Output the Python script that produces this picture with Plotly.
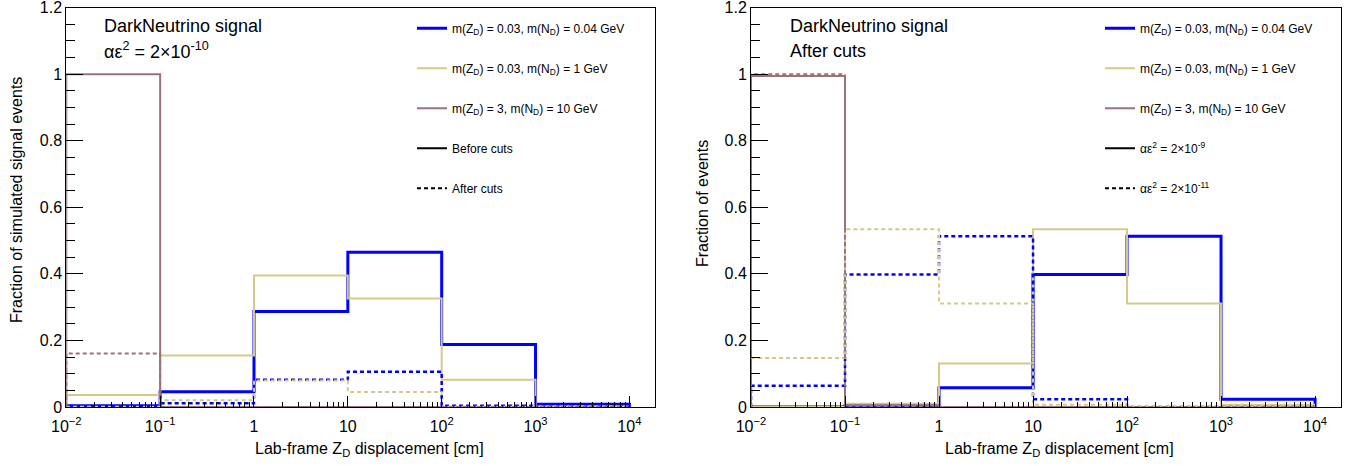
import plotly.graph_objects as go

# ---------------- data ----------------
bin_edges = [1e-2, 1e-1, 1, 10, 100, 1e3, 1e4]

# Left panel: alpha*eps^2 = 2e-10, before / after cuts
left_blue_before = [0.004, 0.046, 0.287, 0.465, 0.188, 0.008]
left_khaki_before = [0.036, 0.155, 0.395, 0.326, 0.082, 0.002]
left_mauve_before = [1.0, 0.0, 0.0, 0.0, 0.0, 0.0]
left_blue_after = [0.002, 0.011, 0.082, 0.106, 0.004, 0.001]
left_khaki_after = [0.001, 0.020, 0.080, 0.045, 0.001, 0.0]
left_mauve_after = [0.161, 0.0, 0.0, 0.0, 0.0, 0.0]

# Right panel: after cuts, two couplings
right_blue_2e9 = [0.0, 0.004, 0.058, 0.398, 0.513, 0.023]
right_khaki_2e9 = [0.0, 0.010, 0.131, 0.534, 0.311, 0.007]
right_mauve_2e9 = [0.995, 0.005, 0.0, 0.0, 0.0, 0.0]
right_blue_2e11 = [0.064, 0.398, 0.513, 0.023, 0.0, 0.0]
right_khaki_2e11 = [0.147, 0.534, 0.311, 0.007, 0.0, 0.0]
right_mauve_2e11 = [1.0, 0.0, 0.0, 0.0, 0.0, 0.0]

sample_names = [
    "m(Z<sub>D</sub>) = 0.03, m(N<sub>D</sub>) = 0.04 GeV",
    "m(Z<sub>D</sub>) = 0.03, m(N<sub>D</sub>) = 1 GeV",
    "m(Z<sub>D</sub>) = 3, m(N<sub>D</sub>) = 10 GeV",
]
left_style_names = ["Before cuts", "After cuts"]
right_style_names = [
    "αε<sup>2</sup> = 2×10<sup>-9</sup>",
    "αε<sup>2</sup> = 2×10<sup>-11</sup>",
]
decade_ticks = [1e-2, 1e-1, 1, 10, 100, 1e3, 1e4]
decade_text = ["10<sup>−2</sup>", "10<sup>−1</sup>", "1", "10",
               "10<sup>2</sup>", "10<sup>3</sup>", "10<sup>4</sup>"]
y_ticks = [0, 0.2, 0.4, 0.6, 0.8, 1.0, 1.2]
y_text = ["0", "0.2", "0.4", "0.6", "0.8", "1", "1.2"]

# ---------------- style ----------------
W, H = 1354, 466
BLUE = "#0000ff"
KHAKI = "#d3c98c"
MAUVE = "#987377"
FONT = "Liberation Sans, Arial, Helvetica, sans-serif"
colors = [BLUE, KHAKI, MAUVE]
widths = [3, 2, 2]
DASH = "4px,3px"


def step_xy(values):
    x = [bin_edges[0]] + list(bin_edges)
    y = [0.0] + list(values) + [0.0]
    return x, y


fig = go.Figure()


def add_panel(solid_sets, dashed_sets, xa, ya, legend, style_names):
    for i, vals in enumerate(solid_sets):
        x, y = step_xy(vals)
        fig.add_trace(go.Scatter(
            x=x, y=y, mode="lines", line_shape="hv",
            line=dict(color=colors[i], width=widths[i]),
            name=sample_names[i], legendgroup=f"{legend}_s{i}",
            legend=legend, xaxis=xa, yaxis=ya, hoverinfo="skip"))
    for i, vals in enumerate(dashed_sets):
        x, y = step_xy(vals)
        fig.add_trace(go.Scatter(
            x=x, y=y, mode="lines", line_shape="hv",
            line=dict(color=colors[i], width=2 if i else 2.5, dash=DASH),
            showlegend=False, legend=legend, xaxis=xa, yaxis=ya, hoverinfo="skip"))
    for j, nm in enumerate(style_names):
        fig.add_trace(go.Scatter(
            x=[None], y=[None], mode="lines",
            line=dict(color="black", width=2, dash=None if j == 0 else DASH),
            name=nm, legendgroup=f"{legend}_k{j}", legend=legend,
            xaxis=xa, yaxis=ya))


add_panel([left_blue_before, left_khaki_before, left_mauve_before],
          [left_blue_after, left_khaki_after, left_mauve_after],
          "x", "y", "legend", left_style_names)
add_panel([right_blue_2e9, right_khaki_2e9, right_mauve_2e9],
          [right_blue_2e11, right_khaki_2e11, right_mauve_2e11],
          "x2", "y2", "legend2", right_style_names)

minor_x = [m * 10 ** e for e in range(-2, 5) for m in range(2, 10)]
minor_y = [k * 0.05 for k in range(0, 25) if k % 4]

xcommon = dict(
    type="log", range=[-2, 4.273], showgrid=False, zeroline=False, automargin=False,
    showline=True, linecolor="black", linewidth=1, mirror=True,
    ticks="inside", ticklen=11, tickwidth=1, tickcolor="black",
    tickmode="array", tickvals=decade_ticks, ticktext=decade_text,
    ticklabelstandoff=5, ticklabeloverflow="allow",
    tickfont=dict(family=FONT, size=16, color="black"),
    minor=dict(ticks="inside", ticklen=5.5, tickwidth=1, tickcolor="black",
               tickmode="array", tickvals=minor_x, showgrid=False),
)
ycommon = dict(
    range=[0, 1.2005], showgrid=False, zeroline=False, automargin=False,
    showline=True, linecolor="black", linewidth=1, mirror=True,
    ticks="inside", ticklen=17, tickwidth=1, tickcolor="black",
    tickmode="array", tickvals=y_ticks, ticktext=y_text,
    ticklabeloverflow="allow",
    tickfont=dict(family=FONT, size=16, color="black"),
    minor=dict(ticks="inside", ticklen=8.5, tickwidth=1, tickcolor="black",
               tickmode="array", tickvals=minor_y, showgrid=False),
    domain=[1 - 407 / H, 1 - 7.5 / H],
)

legend_common = dict(
    font=dict(family=FONT, size=12, color="black"),
    bgcolor="rgba(0,0,0,0)", borderwidth=0, tracegroupgap=21,
    xanchor="left", yanchor="top", y=1 - 13.7 / H, itemclick=False,
)

fig.update_layout(
    width=W, height=H,
    margin=dict(l=0, r=0, t=0, b=0, pad=0, autoexpand=False),
    paper_bgcolor="white", plot_bgcolor="white",
    font=dict(family=FONT, color="black"),
    xaxis=dict(domain=[66.3 / W, 655 / W], anchor="y", **xcommon),
    yaxis=dict(anchor="x", **ycommon),
    xaxis2=dict(domain=[751 / W, 1340.7 / W], anchor="y2", **xcommon),
    yaxis2=dict(anchor="x2", **ycommon),
    legend=dict(x=412 / W, **legend_common),
    legend2=dict(x=1100 / W, **legend_common),
    showlegend=True,
)

annos = [
    dict(x=101.5 / W, y=1 - 26 / H, text="DarkNeutrino signal", size=18, xanchor="left"),
    dict(x=101.5 / W, y=1 - 51 / H,
         text="αε<sup>2</sup> = 2×10<sup>-10</sup>",
         size=18, xanchor="left"),
    dict(x=788 / W, y=1 - 26 / H, text="DarkNeutrino signal", size=18, xanchor="left"),
    dict(x=788 / W, y=1 - 51 / H, text="After cuts", size=18, xanchor="left"),
    dict(x=369 / W, y=1 - 449 / H, text="Lab-frame Z<sub>D</sub> displacement [cm]",
         size=16, xanchor="center"),
    dict(x=1059 / W, y=1 - 449 / H, text="Lab-frame Z<sub>D</sub> displacement [cm]",
         size=16, xanchor="center"),
]
for a in annos:
    fig.add_annotation(x=a["x"], y=a["y"], xref="paper", yref="paper",
                       text=a["text"], showarrow=False, xanchor=a["xanchor"],
                       yanchor="middle", font=dict(family=FONT, size=a["size"], color="black"))

fig.add_annotation(x=16 / W, y=1 - 200 / H, xref="paper", yref="paper",
                   text="Fraction of simulated signal events", textangle=-90,
                   showarrow=False, xanchor="center", yanchor="middle",
                   font=dict(family=FONT, size=16, color="black"))
fig.add_annotation(x=703 / W, y=1 - 204 / H, xref="paper", yref="paper",
                   text="Fraction of events", textangle=-90,
                   showarrow=False, xanchor="center", yanchor="middle",
                   font=dict(family=FONT, size=16, color="black"))

fig.write_html("out.html", config={"displayModeBar": False},
               post_script="document.body.style.margin='0px';")
